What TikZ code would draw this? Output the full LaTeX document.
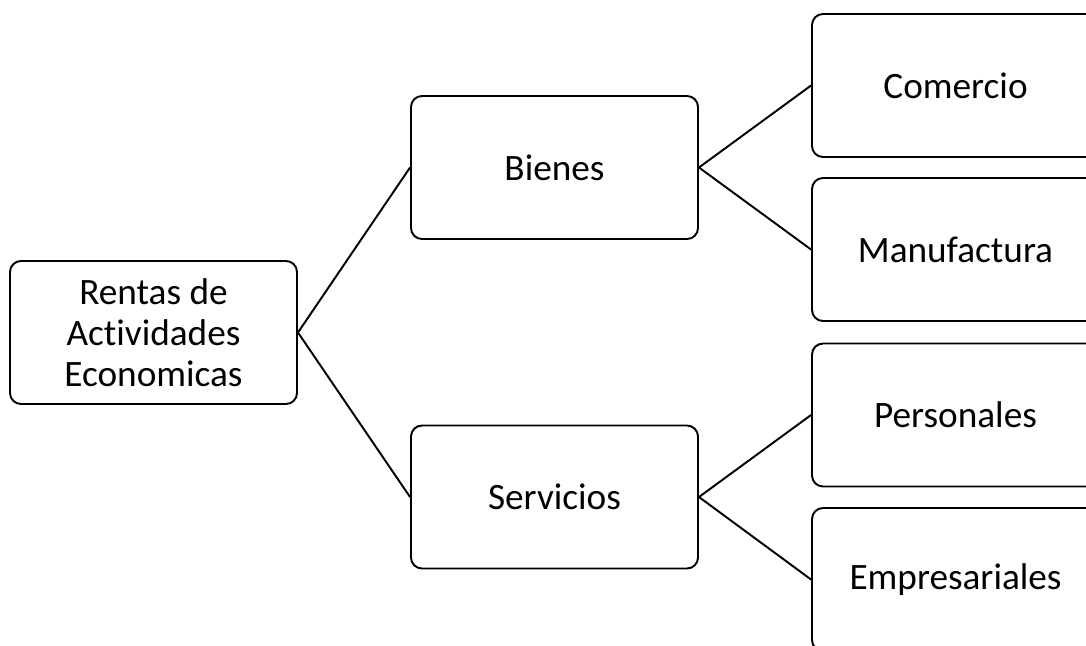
\documentclass[tikz,border=0pt]{standalone}
\usepackage{fontspec}
\setmainfont[Ligatures=NoCommon]{Carlito}
\usetikzlibrary{positioning}
\tikzset{
	box/.style={draw, line width=1.1pt, rounded corners=0.22cm, fill=white,
		minimum width=5.74cm, minimum height=2.86cm, align=center,
		font=\fontsize{21.2}{23.3}\selectfont},
	link/.style={line width=1.1pt}
}

\begin{document}
\begin{tikzpicture}
%%%%%%%%%%%%%%%%%%

%Frame
	\useasboundingbox (0,0) rectangle (21.72,-12.9);
	\clip (0,0) rectangle (21.72,-12.9);

%Boxes
	\node[box] (rentas) at (3.07,-6.65) {Rentas de\\Actividades\\Economicas};
	\node[box] (bienes) at (11.09,-3.35) {Bienes};
	\node[box] (servicios) at (11.09,-9.94) {Servicios};
	\node[box] (comercio) at (19.11,-1.71) {Comercio};
	\node[box] (manufactura) at (19.11,-4.99) {Manufactura};
	\node[box] (personales) at (19.11,-8.30) {Personales};
	\node[box] (empresariales) at (19.11,-11.59) {Empresariales};

% Connect boxes
	\draw[link] (rentas.east) -- (bienes.west);
	\draw[link] (rentas.east) -- (servicios.west);
	\draw[link] (bienes.east) -- (comercio.west);
	\draw[link] (bienes.east) -- (manufactura.west);
	\draw[link] (servicios.east) -- (personales.west);
	\draw[link] (servicios.east) -- (empresariales.west);

\end{tikzpicture}
\end{document}
